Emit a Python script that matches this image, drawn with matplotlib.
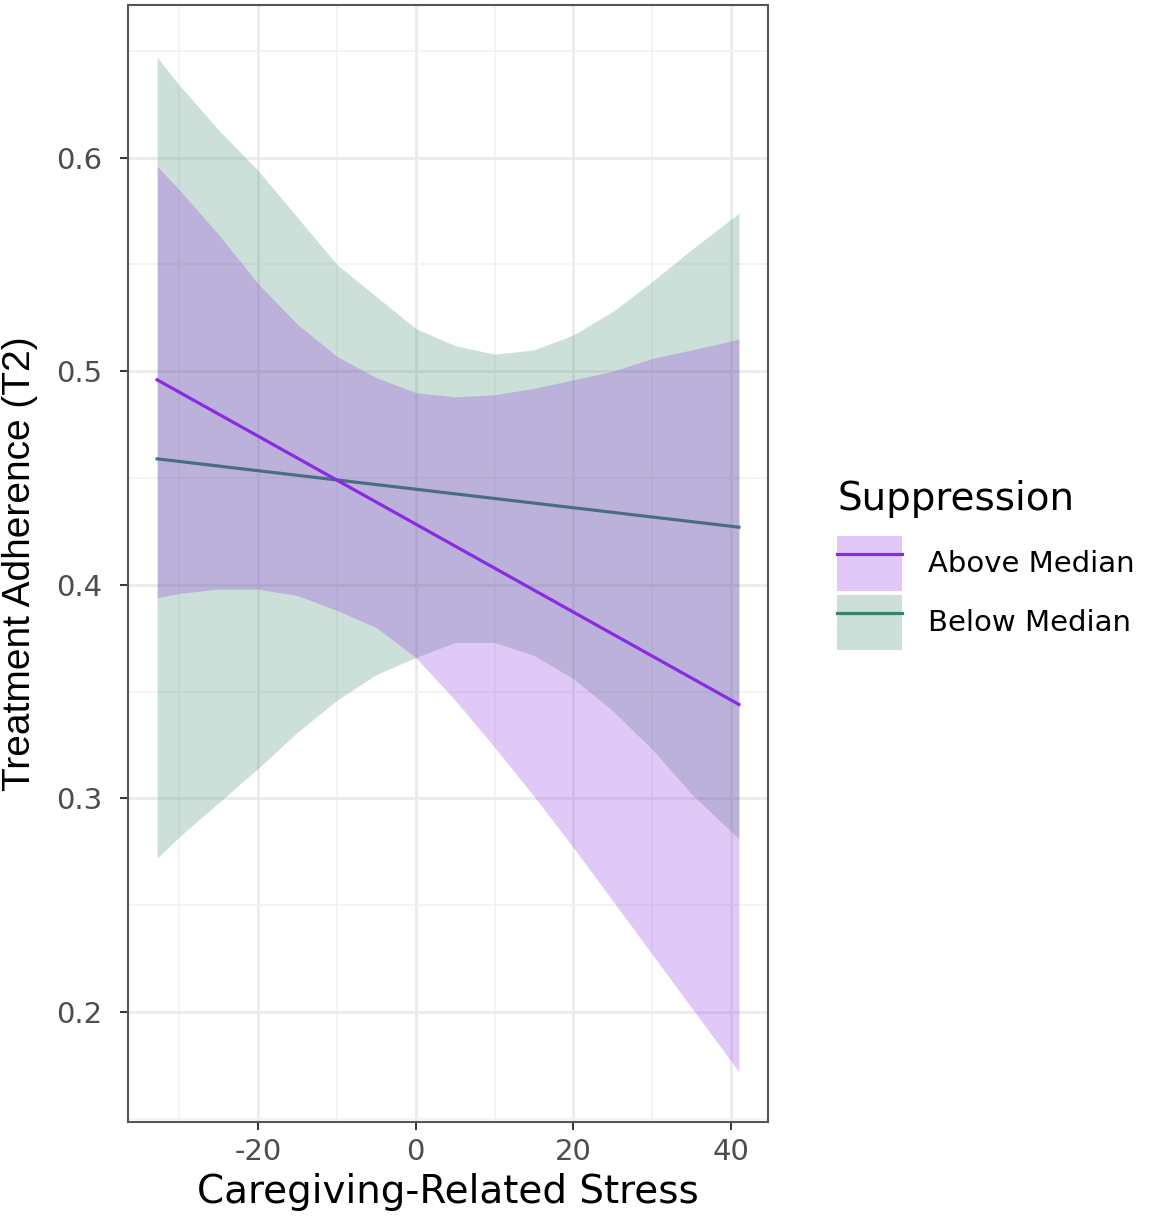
import matplotlib
matplotlib.use("Agg")
import matplotlib.pyplot as plt
from matplotlib.patches import Patch
from matplotlib.lines import Line2D
from matplotlib.ticker import FixedLocator

# ---- data ----
stress = [-32.8, -30, -25, -20, -15, -10, -5, 0, 5, 10, 15, 20, 25, 30, 35, 41]

above_hi = [0.596, 0.585, 0.564, 0.541, 0.522, 0.507, 0.497, 0.490,
            0.488, 0.489, 0.492, 0.496, 0.500, 0.506, 0.510, 0.515]
above_lo = [0.394, 0.396, 0.398, 0.398, 0.395, 0.388, 0.380, 0.366,
            0.346, 0.324, 0.301, 0.277, 0.252, 0.227, 0.202, 0.172]

below_hi = [0.647, 0.634, 0.613, 0.594, 0.572, 0.550, 0.535, 0.520,
            0.512, 0.508, 0.510, 0.517, 0.528, 0.542, 0.557, 0.574]
below_lo = [0.272, 0.282, 0.298, 0.314, 0.331, 0.346, 0.358, 0.366,
            0.373, 0.373, 0.367, 0.356, 0.341, 0.323, 0.302, 0.281]

# fitted (straight) regression lines: values at the two ends
line_x = [-32.8, 41]
above_fit = [0.496, 0.344]
below_fit = [0.459, 0.427]

groups = ["Above Median", "Below Median"]
x_ticks = [-20, 0, 20, 40]
y_ticks = [0.2, 0.3, 0.4, 0.5, 0.6]

# ---- style ----
purple = "#8A2BE2"
green = "#378367"
alpha = 0.25

fig = plt.figure(figsize=(11.55, 12.16), dpi=100)
ax = fig.add_axes([0.1108, 0.0773, 0.665 - 0.1108, 0.9959 - 0.0773])

# Below median drawn first, above median on top
ax.fill_between(stress, below_lo, below_hi, color=green, alpha=alpha, lw=0, zorder=2)
ax.plot(line_x, below_fit, color=green, lw=2.3, zorder=3)
ax.fill_between(stress, above_lo, above_hi, color=purple, alpha=alpha, lw=0, zorder=4)
ax.plot(line_x, above_fit, color=purple, lw=2.3, zorder=5)

ax.set_xlim(-36.5, 44.7)
ax.set_ylim(0.1485, 0.6715)

ax.xaxis.set_major_locator(FixedLocator(x_ticks))
ax.yaxis.set_major_locator(FixedLocator(y_ticks))
ax.xaxis.set_minor_locator(FixedLocator([-30, -10, 10, 30]))
ax.yaxis.set_minor_locator(FixedLocator([0.15, 0.25, 0.35, 0.45, 0.55, 0.65]))
ax.set_xticklabels([str(v) for v in x_ticks])
ax.set_yticklabels([f"{v:.1f}" for v in y_ticks])

ax.grid(which="major", color="#EBEBEB", lw=2.0, zorder=0)
ax.grid(which="minor", color="#F2F2F2", lw=1.2, zorder=0)
ax.set_axisbelow(True)

for s in ax.spines.values():
    s.set_color("#555555")
    s.set_linewidth(1.5)

ax.tick_params(axis="both", which="major", length=5.5, width=1.4, color="#333333",
               labelsize=21, labelcolor="#4D4D4D")
ax.tick_params(axis="x", which="major", pad=6)
ax.tick_params(axis="y", which="major", pad=13)
ax.tick_params(axis="both", which="minor", length=0)
for lab in ax.get_xticklabels() + ax.get_yticklabels():
    lab.set_family("DejaVu Sans")

ax.set_xlabel("Caregiving-Related Stress", fontsize=28, family="DejaVu Sans",
              color="black", labelpad=5)
ax.set_ylabel("Treatment Adherence (T2)", fontsize=28, family="Liberation Sans",
              color="black", labelpad=13)

handles = [
    (Patch(facecolor=purple, alpha=alpha, lw=0), Line2D([], [], color=purple, lw=2.3)),
    (Patch(facecolor=green, alpha=alpha, lw=0), Line2D([], [], color=green, lw=2.3)),
]
leg = fig.legend(handles, groups, title="Suppression", loc="upper left",
                 bbox_to_anchor=(0.72, 1 - 474 / 1216), frameon=False,
                 prop={"family": "DejaVu Sans", "size": 21},
                 handlelength=2.2, handleheight=2.55, labelspacing=0.12,
                 handletextpad=0.9, borderpad=0.2, borderaxespad=0)
leg.get_title().set_fontsize(28)
leg.get_title().set_family("DejaVu Sans")
leg._legend_box.align = "left"
leg._legend_box.sep = 13

fig.savefig("out.png", dpi=100)
